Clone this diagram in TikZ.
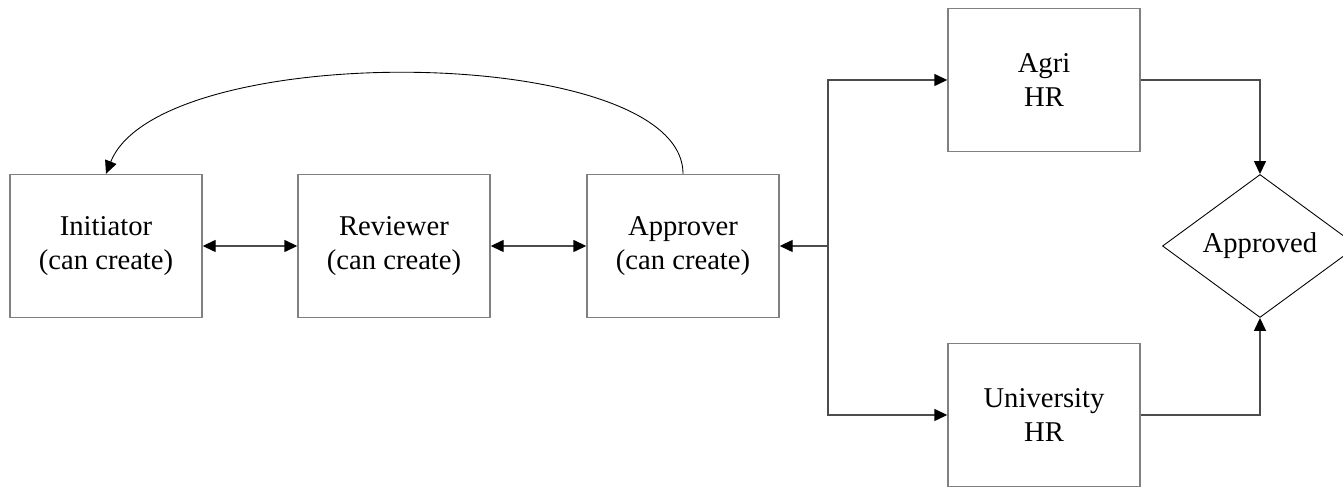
\documentclass[tikz,border=0pt]{standalone}
\usepackage{fontspec}
\setmainfont{Liberation Serif}
\usetikzlibrary{arrows.meta,shapes.geometric}
\begin{document}
\begin{tikzpicture}[
            stage/.style={rectangle, draw=black!50, line width=0.8pt, minimum width=3.84cm, minimum height=2.86cm, align=center, font=\fontsize{16.3}{19.5}\selectfont},
            decision/.style={diamond, draw, line width=0.5pt, minimum width=3.9cm, minimum height=2.86cm, inner sep=0pt, aspect=1.3, font=\fontsize{16.3}{19.5}\selectfont},
            link/.style={draw=black!70, line width=0.8pt},
            tip/.style={-{Triangle[length=0.26cm,width=0.24cm,color=black]}},
            both/.style={{Triangle[length=0.26cm,width=0.24cm,color=black]}-{Triangle[length=0.26cm,width=0.24cm,color=black]}}
        ]
            \useasboundingbox (0,0) rectangle (26.86,9.76);

            \node[stage] (init) at (2.12,4.84) {Initiator\\(can create)};
            \node[stage] (rev) at (7.88,4.84) {Reviewer\\(can create)};
            \node[stage] (apr) at (13.66,4.84) {Approver\\(can create)};
            \node[stage] (agri) at (20.88,8.16) {Agri\\HR};
            \node[stage] (uni) at (20.88,1.46) {University\\HR};
            \node[decision] (ok) at (25.2,4.84) {Approved};
            \coordinate (split) at (16.56,4.84);

            \draw[link,both] (init)--(rev);
            \draw[link,both] (rev)--(apr);
            \draw[link,tip] (split)--(apr);
            \draw[link,tip] (split)|-(agri);
            \draw[link,tip] (split)|-(uni);
            \draw[link,tip] (agri)-|(ok);
            \draw[link,tip] (uni)-|(ok);
            \draw[line width=0.5pt,tip] (apr.north) .. controls (13.66,8.9) and (3.2,9.0) .. (init.north);

        \end{tikzpicture}
\end{document}
